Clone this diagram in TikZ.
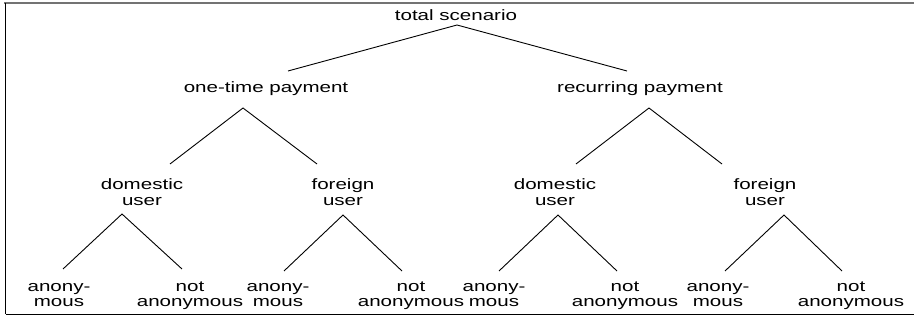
\documentclass[tikz,border=0pt]{standalone}
\usepackage{fontspec}
\setmainfont[FakeStretch=1.37]{Liberation Sans}
\begin{document}
\begin{tikzpicture}[x=1pt,y=-1pt,
  label/.style={inner sep=0pt, anchor=base, align=center,
    font=\fontsize{15}{15.5}\selectfont},
  branch/.style={draw=black, line width=0.9pt}]
\useasboundingbox (0,0) rectangle (914,320);
% frame
\draw[draw=black!55, line width=2pt] (4,3) -- (914,3);
\draw[draw=black, line width=1.8pt] (5.5,3) -- (5.5,314.5);
\draw[draw=black, line width=1.5pt] (5.5,314.5) -- (914,314.5);

% root (anchor base = baseline of the last line)
\node[label] (ts) at (456,21) {total scenario};
% payment type
\node[label] (otp) at (266,93) {one-time payment};
\node[label] (rp) at (640,93) {recurring payment};
% user origin
\node[label] (domL) at (142,205.5) {domestic\\user};
\node[label] (forL) at (343,205.5) {foreign\\user};
\node[label] (domR) at (555,205.5) {domestic\\user};
\node[label] (forR) at (765,205.5) {foreign\\user};
% anonymity
\node[label] (a1) at (59,307) {anony-\\mous};
\node[label] (n1) at (190,307) {not\\anonymous};
\node[label] (a2) at (278,307) {anony-\\mous};
\node[label] (n2) at (411,307) {not\\anonymous};
\node[label] (a3) at (494,307) {anony-\\mous};
\node[label] (n3) at (625,307) {not\\anonymous};
\node[label] (a4) at (718,307) {anony-\\mous};
\node[label] (n4) at (851,307) {not\\anonymous};

% branch points below parents and above children
\coordinate (ts-b) at (457,25);
\coordinate (otp-t) at (288,71);
\coordinate (rp-t) at (627,71);
\coordinate (otp-b) at (243,108);
\coordinate (rp-b) at (649,108);
\coordinate (domL-t) at (170,164);
\coordinate (forL-t) at (317,164);
\coordinate (domR-t) at (576,164);
\coordinate (forR-t) at (722,164);
\coordinate (domL-b) at (122,214);
\coordinate (forL-b) at (343,215);
\coordinate (domR-b) at (558,215);
\coordinate (forR-b) at (784,215);
\coordinate (a1-t) at (63,269);
\coordinate (n1-t) at (182,269);
\coordinate (a2-t) at (284,271);
\coordinate (n2-t) at (402,271);
\coordinate (a3-t) at (499,271);
\coordinate (n3-t) at (617,271);
\coordinate (a4-t) at (725,271);
\coordinate (n4-t) at (842,271);

\draw[branch] (otp-t) -- (ts-b) -- (rp-t);
\draw[branch] (domL-t) -- (otp-b) -- (forL-t);
\draw[branch] (domR-t) -- (rp-b) -- (forR-t);
\draw[branch] (a1-t) -- (domL-b) -- (n1-t);
\draw[branch] (a2-t) -- (forL-b) -- (n2-t);
\draw[branch] (a3-t) -- (domR-b) -- (n3-t);
\draw[branch] (a4-t) -- (forR-b) -- (n4-t);
\end{tikzpicture}
\end{document}
